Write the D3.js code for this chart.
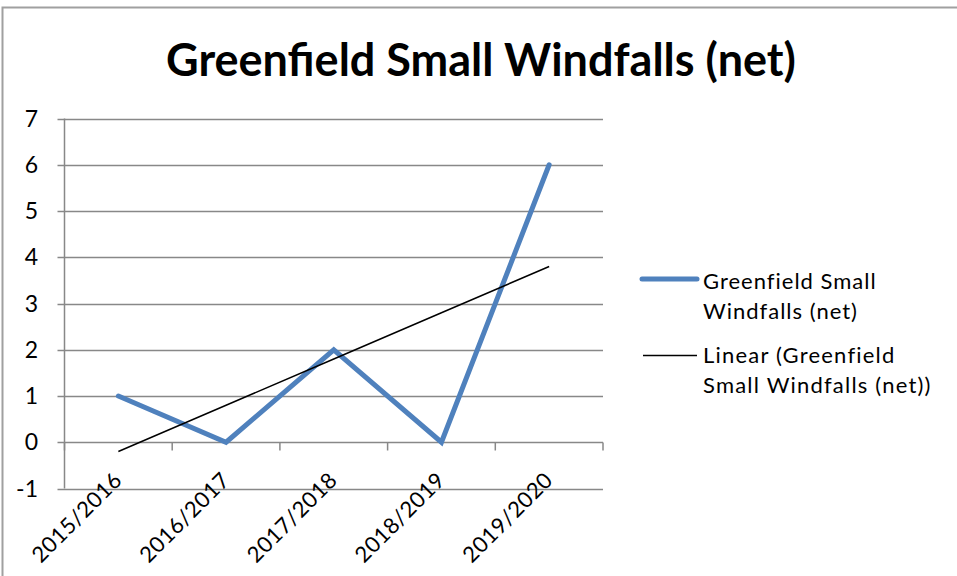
<!DOCTYPE html>
<html><head><meta charset="utf-8">
<script src="https://cdn.jsdelivr.net/npm/d3@7"></script>
<style>body{margin:0;background:#fff}svg{display:block}text{font-family:Lato,"Open Sans",sans-serif}</style>
</head><body><svg id="c" width="957" height="576"></svg>
<script>
const categories = ["2015/2016","2016/2017","2017/2018","2018/2019","2019/2020"];
const values = [1, 0, 2, 0, 6];
const yTicks = [-1,0,1,2,3,4,5,6,7];
const title = "Greenfield Small Windfalls (net)";
const seriesName = ["Greenfield Small", "Windfalls (net)"];
const trendName = ["Linear (Greenfield", "Small Windfalls (net))"];

(function(){
const svg = d3.select("#c");
svg.append("rect").attr("x",2.5).attr("y",7.5).attr("width",1000).attr("height",700)
  .attr("fill","none").attr("stroke","#a0a0a0").attr("stroke-width",2);

const pL=64.5, pR=603, pT=118.5, pB=488.5;
const x = d3.scaleBand().domain(categories).range([pL,pR]);
const y = d3.scaleLinear().domain([-1,7]).range([pB,pT]);
const cx = d => x(d)+x.bandwidth()/2;

svg.append("text").attr("x",481).attr("y",76).attr("text-anchor","middle")
  .attr("font-weight","bold").attr("font-size",45).attr("fill","#000").text(title);

svg.append("g").selectAll("line").data(yTicks).join("line")
  .attr("x1",pL-7).attr("x2",pR).attr("y1",d=>Math.round(y(d))+0.5).attr("y2",d=>Math.round(y(d))+0.5)
  .attr("stroke","#888").attr("stroke-width",1.5);
svg.append("line").attr("x1",pL).attr("x2",pL).attr("y1",pT).attr("y2",pB).attr("stroke","#888").attr("stroke-width",1.5);
svg.append("g").selectAll("text").data(yTicks).join("text")
  .attr("x",38).attr("y",d=>y(d)+8).attr("text-anchor","end").attr("font-size",23).attr("fill","#000").text(d=>d);
const y0 = Math.round(y(0))+0.5;
const bounds = categories.map(c=>x(c)).concat([pR]);
svg.append("g").selectAll("line").data(bounds).join("line")
  .attr("x1",d=>d).attr("x2",d=>d).attr("y1",y0).attr("y2",y0+8).attr("stroke","#888").attr("stroke-width",1.5);
svg.append("g").selectAll("text").data(categories).join("text")
  .attr("transform",d=>`translate(${cx(d)+5},${pB-7}) rotate(-45)`)
  .attr("text-anchor","end").attr("font-size",22).attr("letter-spacing",0.5).attr("fill","#000").text(d=>d);

const line = d3.line().x((d,i)=>cx(categories[i])).y(d=>y(d));
svg.append("path").datum(values).attr("d",line).attr("fill","none")
  .attr("stroke","#4F81BD").attr("stroke-width",5).attr("stroke-linejoin","miter").attr("stroke-linecap","round");

const xs = values.map((d,i)=>i+1);
const mx = d3.mean(xs), my = d3.mean(values);
const slope = d3.sum(xs.map((xi,i)=>(xi-mx)*(values[i]-my)))/d3.sum(xs.map(xi=>(xi-mx)**2));
const icpt = my - slope*mx;
const trend = xs.map(xi=>icpt+slope*xi);
svg.append("path").datum(trend).attr("d",line).attr("fill","none").attr("stroke","#000").attr("stroke-width",1.5);

const lg = svg.append("g");
lg.append("line").attr("x1",642).attr("x2",697).attr("y1",279).attr("y2",279).attr("stroke","#4F81BD").attr("stroke-width",5).attr("stroke-linecap","round");
lg.append("text").attr("font-size",22).attr("letter-spacing",1).attr("fill","#000").selectAll("tspan").data(seriesName).join("tspan")
  .attr("x",703).attr("y",(d,i)=>289+i*30).text(d=>d);
lg.append("line").attr("x1",643).attr("x2",697).attr("y1",355.5).attr("y2",355.5).attr("stroke","#000").attr("stroke-width",1.5);
lg.append("text").attr("font-size",22).attr("letter-spacing",1.2).attr("fill","#000").selectAll("tspan").data(trendName).join("tspan")
  .attr("x",703).attr("y",(d,i)=>363+i*30).text(d=>d);
})();
</script></body></html>
